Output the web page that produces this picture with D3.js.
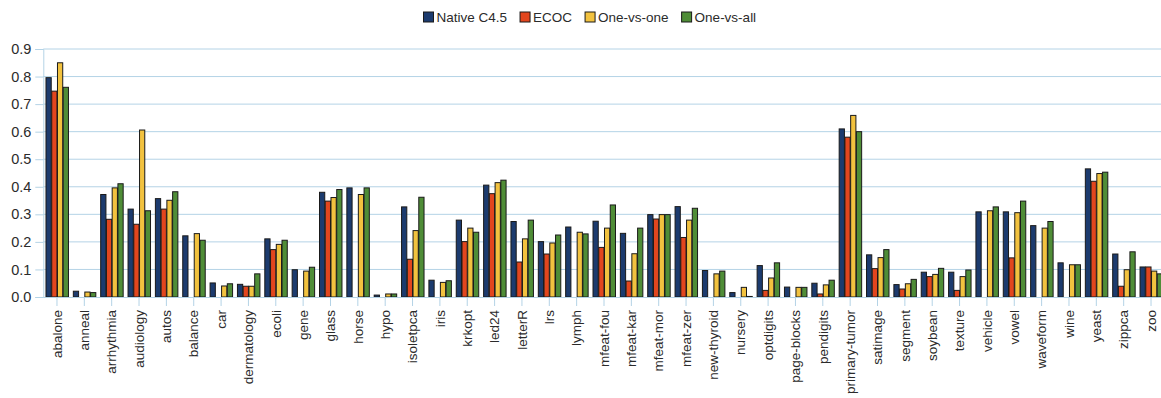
<!DOCTYPE html>
<html>
<head>
<meta charset="utf-8">
<script src="https://cdn.jsdelivr.net/npm/d3@7"></script>
<style>
  html, body { margin: 0; padding: 0; background: #fff; }
  svg { display: block; font-family: "Liberation Sans", Arial, sans-serif; }
</style>
</head>
<body>
<svg id="chart" width="1161" height="398"></svg>
<script>
// Error rates per dataset for four multi-class strategies (null = no result)
const categories = ["abalone","anneal","arrhythmia","audiology","autos","balance","car","dermatology","ecoli","gene","glass","horse","hypo","isoletpca","iris","krkopt","led24","letterR","lrs","lymph","mfeat-fou","mfeat-kar","mfeat-mor","mfeat-zer","new-thyroid","nursery","optdigits","page-blocks","pendigits","primary-tumor","satimage","segment","soybean","texture","vehicle","vowel","waveform","wine","yeast","zippca","zoo"];

const nativeC45 = [0.796,0.021,0.372,0.319,0.357,0.222,0.051,0.046,0.211,0.099,0.380,0.396,0.007,0.327,0.061,0.279,0.406,0.274,0.201,0.254,0.275,0.231,0.299,0.328,0.096,0.016,0.114,0.036,0.050,0.610,0.153,0.045,0.090,0.090,0.309,0.309,0.259,0.124,0.465,0.156,0.109];
const ecoc      = [0.747,null,0.282,0.264,0.319,null,null,0.039,0.172,null,0.348,null,null,0.137,null,0.201,0.375,0.127,0.156,null,0.180,0.058,0.283,0.216,null,null,0.024,null,0.011,0.580,0.103,0.029,0.074,0.024,null,0.142,null,null,0.420,0.039,0.109];
const oneVsOne  = [0.850,0.018,0.396,0.606,0.351,0.230,0.040,0.039,0.191,0.094,0.361,0.372,0.011,0.241,0.053,0.250,0.415,0.211,0.196,0.235,0.250,0.157,0.299,0.279,0.084,0.035,0.069,0.035,0.044,0.659,0.143,0.048,0.082,0.074,0.313,0.306,0.250,0.117,0.448,0.099,0.094];
const oneVsAll  = [0.761,0.016,0.411,0.313,0.382,0.206,0.048,0.084,0.206,0.108,0.390,0.396,0.011,0.362,0.059,0.235,0.424,0.279,0.225,0.229,0.334,0.250,0.299,0.322,0.094,0.002,0.124,0.035,0.061,0.600,0.172,0.064,0.104,0.098,0.327,0.348,0.274,0.117,0.453,0.164,0.084];

const seriesNames  = ["Native C4.5","ECOC","One-vs-one","One-vs-all"];
const seriesValues = [nativeC45, ecoc, oneVsOne, oneVsAll];
const seriesColors = ["#1c3b6e","#e2461e","#f2c23f","#4f8d37"];
const yTicks = [0,0.1,0.2,0.3,0.4,0.5,0.6,0.7,0.8,0.9];

const svg = d3.select("#chart");
const plot = { left: 43.3, right: 1164.7, top: 49, bottom: 297 };
const gridColor = "#b4d3e6";
const textColor = "#2b2b2b";

const x0 = d3.scaleBand().domain(categories).range([plot.left, plot.right]).paddingInner(0.16).paddingOuter(0.08);
const x1 = d3.scaleBand().domain(seriesNames).range([0, x0.bandwidth()]);
const y = d3.scaleLinear().domain([0, 0.9]).range([plot.bottom, plot.top]);

// horizontal grid
svg.append("g").selectAll("line").data(yTicks.slice(1)).join("line")
  .attr("x1", plot.left).attr("x2", plot.right)
  .attr("y1", d => y(d)).attr("y2", d => y(d))
  .attr("stroke", gridColor).attr("stroke-width", 1);

// y axis
const yAxis = svg.append("g").attr("transform", `translate(${plot.left},0)`)
  .call(d3.axisLeft(y).tickValues(yTicks).tickFormat(d3.format(".1f")).tickSize(8).tickPadding(4));
yAxis.select(".domain").attr("stroke", gridColor);
yAxis.selectAll(".tick line").attr("stroke", gridColor);
yAxis.selectAll(".tick text").attr("fill", textColor).style("font-size", "14.5px")
  .style("font-family", "'Liberation Sans', Arial, sans-serif");

// bars
const rows = categories.map((c, i) => ({ cat: c, vals: seriesValues.map((s, k) => ({ name: seriesNames[k], v: s[i], k })) }));
const groups = svg.append("g").selectAll("g").data(rows).join("g")
  .attr("transform", d => `translate(${x0(d.cat)},0)`);
groups.selectAll("rect").data(d => d.vals.filter(v => v.v !== null)).join("rect")
  .attr("x", d => x1(d.name) + 0.5)
  .attr("width", x1.bandwidth() - 0.5)
  .attr("y", d => y(d.v))
  .attr("height", d => Math.max(0, y(0) - y(d.v)))
  .attr("fill", d => seriesColors[d.k])
  .attr("stroke", "#1a1a1a").attr("stroke-width", 1);

// x axis
const xAxis = svg.append("g").attr("transform", `translate(0,${plot.bottom})`)
  .call(d3.axisBottom(x0).tickSize(9).tickSizeOuter(0));
xAxis.select(".domain").attr("stroke", gridColor);
xAxis.selectAll(".tick line").attr("stroke", gridColor);
xAxis.selectAll(".tick text")
  .attr("fill", textColor).style("font-size", "13.5px")
  .style("font-family", "'Liberation Sans', Arial, sans-serif")
  .attr("transform", "rotate(-90)")
  .attr("text-anchor", "end")
  .attr("x", -13).attr("y", 0).attr("dy", "0.35em");

// legend
const legend = svg.append("g");
let lx = 0;
seriesNames.forEach((name, k) => {
  const g = legend.append("g");
  g.append("rect").attr("x", 0).attr("y", 12).attr("width", 10).attr("height", 10)
    .attr("fill", seriesColors[k]).attr("stroke", "#1a1a1a").attr("stroke-width", 1);
  const t = g.append("text").attr("x", 13).attr("y", 21.5).text(name)
    .attr("fill", textColor).style("font-size", "13.5px");
  const w = 13 + t.node().getComputedTextLength();
  g.attr("transform", `translate(${lx},0)`);
  lx += w + 13;
});
legend.attr("transform", "translate(423.5,0)");
</script>
</body>
</html>
